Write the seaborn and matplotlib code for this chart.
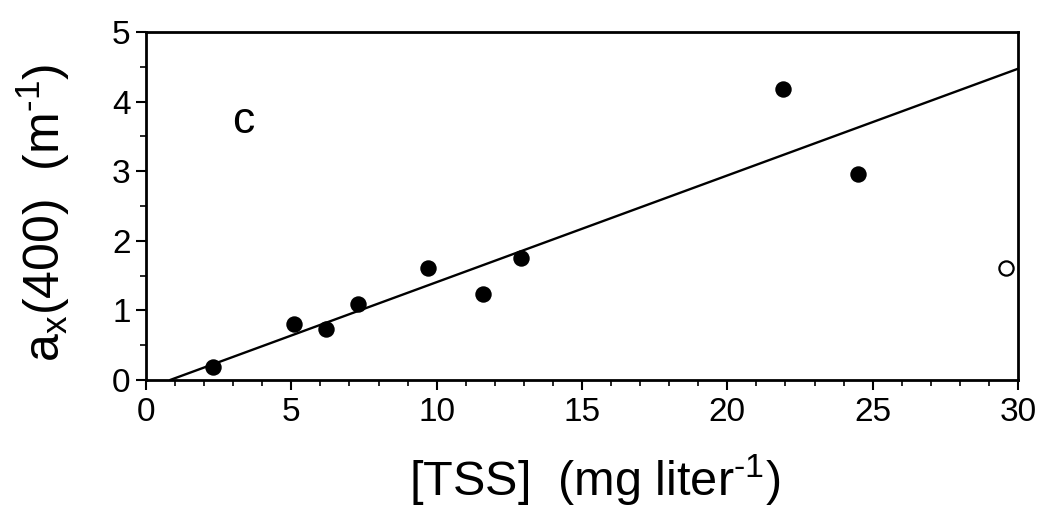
import numpy as np
import pandas as pd
import matplotlib
matplotlib.use("Agg")
import matplotlib.pyplot as plt
import seaborn as sns
from matplotlib.ticker import MultipleLocator

# Data
tss_filled = [2.3, 5.1, 6.2, 7.3, 9.7, 11.6, 12.9, 21.9, 24.5]
ax_filled = [0.19, 0.80, 0.73, 1.09, 1.61, 1.24, 1.75, 4.18, 2.96]
tss_open = [29.6]
ax_open = [1.61]
fit_x = [0.83, 30.0]
fit_slope = 0.1533
fit_intercept = -0.127

sns.set_theme(style="ticks")
plt.rcParams['font.family'] = ['Liberation Sans', 'DejaVu Sans']
plt.rcParams['mathtext.fontset'] = 'custom'
plt.rcParams['mathtext.rm'] = 'Liberation Sans'
plt.rcParams['mathtext.it'] = 'Liberation Sans:italic'
plt.rcParams['mathtext.default'] = 'regular'

fig = plt.figure(figsize=(10.42, 5.09), dpi=100)
ax = fig.add_axes([146/1042, 1 - 380/509, (1018-146)/1042, (380-32)/509])

df_f = pd.DataFrame({"x": tss_filled, "y": ax_filled})
df_o = pd.DataFrame({"x": tss_open, "y": ax_open})
fx = np.array(fit_x)
df_l = pd.DataFrame({"x": fx, "y": fit_intercept + fit_slope * fx})

sns.lineplot(data=df_l, x="x", y="y", ax=ax, color="black", linewidth=1.7)
sns.scatterplot(data=df_f, x="x", y="y", ax=ax, color="black", s=140, linewidth=0, zorder=3)
sns.scatterplot(data=df_o, x="x", y="y", ax=ax, facecolor="white", edgecolor="black", linewidth=1.6, s=105, zorder=3)

ax.set_xlim(0, 30)
ax.set_ylim(0, 5)
ax.xaxis.set_major_locator(MultipleLocator(5))
ax.xaxis.set_minor_locator(MultipleLocator(1))
ax.yaxis.set_major_locator(MultipleLocator(1))
ax.yaxis.set_minor_locator(MultipleLocator(0.5))
ax.tick_params(which="major", length=7, width=1.5, labelsize=24, direction="out", color="black", labelcolor="black")
ax.tick_params(axis="x", which="major", pad=5)
ax.tick_params(axis="y", which="major", pad=4)
ax.tick_params(which="minor", length=4, width=1.2, direction="out", color="black")
for s in ax.spines.values():
    s.set_linewidth(2)
    s.set_color("black")
    s.set_visible(True)

ax.set_xlabel("[TSS]  (mg liter$^{\\text{-}1}$)", fontsize=35, color="black")
ax.set_ylabel("a$_{x}$(400)  (m$^{\\text{-}1}$)", fontsize=36, color="black")
ax.xaxis.set_label_coords(0.515, -0.21)
ax.yaxis.set_label_coords(-0.085, 0.48)
ax.text(3.34, 3.72, "c", fontsize=32, ha="center", va="center", color="black")

fig.savefig("out.png", dpi=100, facecolor="white")
